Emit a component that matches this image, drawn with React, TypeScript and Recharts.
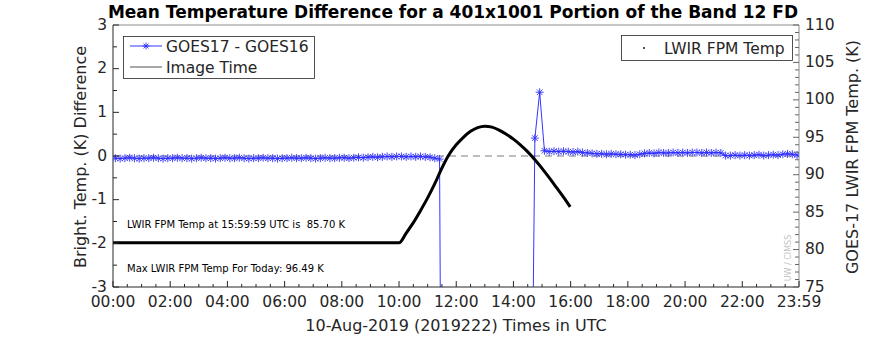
import React from 'react';
import {LineChart, Line, XAxis, YAxis, ReferenceLine} from 'recharts';

// GOES17 - GOES16 mean difference (K), one value every 10 min
const DIFF_AM_START = '00:05'; // 00:05 .. 11:25
const DIFF_AM = [
  -0.05, -0.06, -0.05, -0.04, -0.05, -0.06, -0.05, -0.05, -0.04, -0.05, -0.06, -0.05,
  -0.05, -0.04, -0.05, -0.05, -0.06, -0.05, -0.04, -0.05, -0.05, -0.06, -0.05, -0.04,
  -0.05, -0.05, -0.04, -0.05, -0.06, -0.05, -0.05, -0.04, -0.05, -0.05, -0.06, -0.05,
  -0.05, -0.04, -0.05, -0.05, -0.04, -0.05, -0.06, -0.05, -0.04, -0.05, -0.05, -0.04,
  -0.04, -0.05, -0.04, -0.03, -0.04, -0.03, -0.02, -0.03, -0.02, -0.01, -0.02, -0.01,
  -0.01, -0.02, -0.01, -0.02, -0.01, -0.02, -0.03, -0.05, -0.07,
];
// dropout around local midday (values far off the axis)
const DIFF_EVENT_TIMES = ['11:35', '14:35', '14:45', '14:55', '15:05'];
const DIFF_EVENT = [-20, -10, 0.41, 1.46, 0.12];
const DIFF_PM_START = '15:15'; // 15:15 .. 23:55
const DIFF_PM = [
  0.1, 0.11, 0.1, 0.11, 0.1, 0.09, 0.1,
  0.08, 0.07, 0.06, 0.05, 0.05, 0.04, 0.05, 0.04, 0.04,
  0.03, 0.03, 0.02, 0.04,
  0.06, 0.07, 0.06, 0.08, 0.07, 0.07,
  0.08, 0.07, 0.08, 0.07, 0.08, 0.08, 0.07, 0.08, 0.07, 0.08, 0.07,
  0.01, 0.01, 0.02, 0.01, 0.02, 0.01, 0.02, 0.03, 0.01, 0.02, 0.03, 0.02,
  0.04, 0.05, 0.04, 0.02,
];

// LWIR focal plane temperature (K)
const TEMP_TIMES = [
  '00:00', '01:00', '02:00', '03:00', '04:00', '05:00', '06:00', '07:00', '08:00', '09:00',
  '10:00', '10:15', '10:30', '10:45', '11:00', '11:15', '11:30', '11:45', '12:00', '12:15',
  '12:30', '12:45', '13:00', '13:15', '13:30', '13:45', '14:00', '14:15', '14:30', '14:45',
  '15:00', '15:15', '15:30', '15:45', '15:59',
];
const TEMP = [
  80.9, 80.9, 80.9, 80.9, 80.9, 80.9, 80.9, 80.9, 80.9, 80.9,
  80.9, 82.2, 83.6, 85.2, 86.9, 88.8, 90.9, 92.7, 94.0, 95.0,
  95.8, 96.3, 96.49, 96.35, 95.95, 95.4, 94.75, 93.95, 93.05, 92.0,
  90.85, 89.6, 88.3, 87.0, 85.7,
];

const X_LABELS = ['00:00', '02:00', '04:00', '06:00', '08:00', '10:00', '12:00', '14:00', '16:00', '18:00', '20:00', '22:00', '23:59'];
const LEFT_TICKS = [-3, -2, -1, 0, 1, 2, 3];
const RIGHT_TICKS = [75, 80, 85, 90, 95, 100, 105, 110];

const W = 880;
const H = 360;
const PL = 113;
const PR = 799;
const PT = 25;
const PB = 287;
const FONT = '"DejaVu Sans", sans-serif';
const INK = '#262626';

const toMin = (s: string) => {
  const [h, m] = s.split(':').map(Number);
  return h * 60 + m;
};

const diffData = [
  ...DIFF_AM.map((v, i) => ({t: toMin(DIFF_AM_START) + i * 10, v})),
  ...DIFF_EVENT.map((v, i) => ({t: toMin(DIFF_EVENT_TIMES[i]), v})),
  ...DIFF_PM.map((v, i) => ({t: toMin(DIFF_PM_START) + i * 10, v})),
];
const tempData = TEMP.map((v, i) => ({t: toMin(TEMP_TIMES[i]), v}));
const zeroData = [{t: 0, v: 0}, {t: 1439, v: 0}];

const xMajor = X_LABELS.map(toMin);
const xTicks: number[] = [];
for (let m = 0; m < 1440; m += 30) xTicks.push(m);
xTicks.push(1439);
const leftTicks: number[] = [];
for (let v = -3; v <= 3; v += 0.5) leftTicks.push(v);
const rightTicks: number[] = [];
for (let v = 75; v <= 110; v += 1) rightTicks.push(v);

function XTick({x, payload}: any) {
  const idx = xMajor.indexOf(payload.value);
  const major = idx >= 0;
  return (
    <g>
      <line x1={x} x2={x} y1={PB} y2={PB - (major ? 6 : 3)} stroke={INK} strokeWidth={1} />
      {major && (
        <text x={x} y={PB + 20} textAnchor="middle" fontSize={15.5} fontFamily={FONT} fill={INK}>
          {X_LABELS[idx]}
        </text>
      )}
    </g>
  );
}

function LeftTick({y, payload}: any) {
  const major = LEFT_TICKS.includes(payload.value);
  return (
    <g>
      <line x1={PL} x2={PL + (major ? 6 : 4)} y1={y} y2={y} stroke={INK} strokeWidth={1} />
      {major && (
        <text x={PL - 6} y={y + 4.5} textAnchor="end" fontSize={15.5} fontFamily={FONT} fill={INK}>
          {payload.value}
        </text>
      )}
    </g>
  );
}

function RightTick({y, payload}: any) {
  const major = RIGHT_TICKS.includes(payload.value);
  return (
    <g>
      <line x1={PR} x2={PR - (major ? 6 : 4)} y1={y} y2={y} stroke="#666" strokeWidth={1} />
      {major && (
        <text x={PR + 6} y={y + 4.5} textAnchor="start" fontSize={15.5} fontFamily={FONT} fill={INK}>
          {payload.value}
        </text>
      )}
    </g>
  );
}

function asterisk(cx: number, cy: number, r: number) {
  const d = r * 0.7;
  return `M${cx - r},${cy}L${cx + r},${cy}M${cx},${cy - r}L${cx},${cy + r}M${cx - d},${cy - d}L${cx + d},${cy + d}M${cx - d},${cy + d}L${cx + d},${cy - d}`;
}

function StarDot(props: any) {
  const {cx, cy, value, index} = props;
  if (cx == null || cy == null || value == null || value < -3) return <g key={`s${index}`} />;
  return <path key={`s${index}`} d={asterisk(cx, cy, 4)} stroke="#3030ff" strokeWidth={0.9} fill="none" />;
}

function Overlay() {
  return (
    <svg width={W} height={H} style={{position: 'absolute', left: 0, top: 0, pointerEvents: 'none'}}>
      <text x={453} y={18} textAnchor="middle" fontSize={17} fontWeight="bold" fontFamily={FONT} fill="#000">
        Mean Temperature Difference for a 401x1001 Portion of the Band 12 FD
      </text>
      <text
        transform={`translate(86,157) rotate(-90)`}
        textAnchor="middle"
        fontSize={16}
        fontFamily={FONT}
        fill={INK}
      >
        Bright. Temp. (K) Difference
      </text>
      <text
        transform={`translate(858,157) rotate(-90)`}
        textAnchor="middle"
        fontSize={16}
        fontFamily={FONT}
        fill={INK}
      >
        GOES-17 LWIR FPM Temp. (K)
      </text>
      <text x={456} y={331} textAnchor="middle" fontSize={16} fontFamily={FONT} fill={INK}>
        10-Aug-2019 (2019222) Times in UTC
      </text>

      {/* left legend */}
      <rect x={123.5} y={36.5} width={191} height={42} fill="#fff" stroke={INK} strokeWidth={0.8} />
      <line x1={130} x2={162} y1={46} y2={46} stroke="#0000ff" strokeWidth={0.8} />
      <path d={asterisk(146, 46, 3.5)} stroke="#2020ff" strokeWidth={0.8} fill="none" />
      <text x={166} y={51.5} fontSize={15.5} fontFamily={FONT} fill={INK}>GOES17 - GOES16</text>
      <line x1={130} x2={162} y1={67} y2={67} stroke="#a8a8a8" strokeWidth={2} />
      <text x={166} y={72.5} fontSize={15.5} fontFamily={FONT} fill={INK}>Image Time</text>

      {/* right legend */}
      <rect x={621.5} y={35.5} width={171} height={25} fill="#fff" stroke={INK} strokeWidth={0.8} />
      <circle cx={644} cy={48} r={0.9} fill="#000" />
      <text x={664} y={53.5} fontSize={15.5} fontFamily={FONT} fill={INK}>LWIR FPM Temp</text>

      <text x={127} y={228} fontSize={10} fontFamily={FONT} fill="#000" style={{whiteSpace: 'pre'}}>
        LWIR FPM Temp at 15:59:59 UTC is  85.70 K
      </text>
      <text x={127} y={272} fontSize={10} fontFamily={FONT} fill="#000">
        Max LWIR FPM Temp For Today: 96.49 K
      </text>
      <text
        transform={`translate(791,258) rotate(-90)`}
        textAnchor="middle"
        fontSize={8}
        fontFamily={FONT}
        fill="#c4c4c4"
      >
        UW / CIMSS
      </text>
    </svg>
  );
}

export default function App() {
  return (
    <div style={{position: 'absolute', left: 0, top: 0, width: W, height: H, background: '#fff'}}>
      <LineChart width={W} height={H} margin={{top: PT, right: 0, bottom: 0, left: 0}}>
        <XAxis
          dataKey="t"
          type="number"
          domain={[0, 1439]}
          ticks={xTicks}
          interval={0}
          tick={<XTick />}
          tickLine={false}
          axisLine={{stroke: INK}}
          height={H - PB}
          allowDataOverflow
        />
        <YAxis
          yAxisId="left"
          orientation="left"
          type="number"
          domain={[-3, 3]}
          ticks={leftTicks}
          interval={0}
          tick={<LeftTick />}
          tickLine={false}
          axisLine={{stroke: INK}}
          width={PL}
          allowDataOverflow
        />
        <YAxis
          yAxisId="right"
          orientation="right"
          type="number"
          domain={[75, 110]}
          ticks={rightTicks}
          interval={0}
          tick={<RightTick />}
          tickLine={false}
          axisLine={{stroke: '#8c8c8c'}}
          width={W - PR}
          allowDataOverflow
        />
        <ReferenceLine yAxisId="left" y={3} stroke="#8c8c8c" strokeWidth={1} />
        <Line
          yAxisId="left"
          data={zeroData}
          dataKey="v"
          stroke="#a8a8a8"
          strokeWidth={1.5}
          strokeDasharray="7 5"
          dot={false}
          isAnimationActive={false}
        />
        <Line
          yAxisId="left"
          data={diffData}
          dataKey="v"
          type="linear"
          stroke="#0000ff"
          strokeWidth={0.8}
          dot={StarDot}
          activeDot={false}
          isAnimationActive={false}
        />
        <Line
          yAxisId="right"
          data={tempData}
          dataKey="v"
          type="monotone"
          stroke="#000"
          strokeWidth={3}
          dot={false}
          activeDot={false}
          isAnimationActive={false}
        />
      </LineChart>
      <Overlay />
    </div>
  );
}
